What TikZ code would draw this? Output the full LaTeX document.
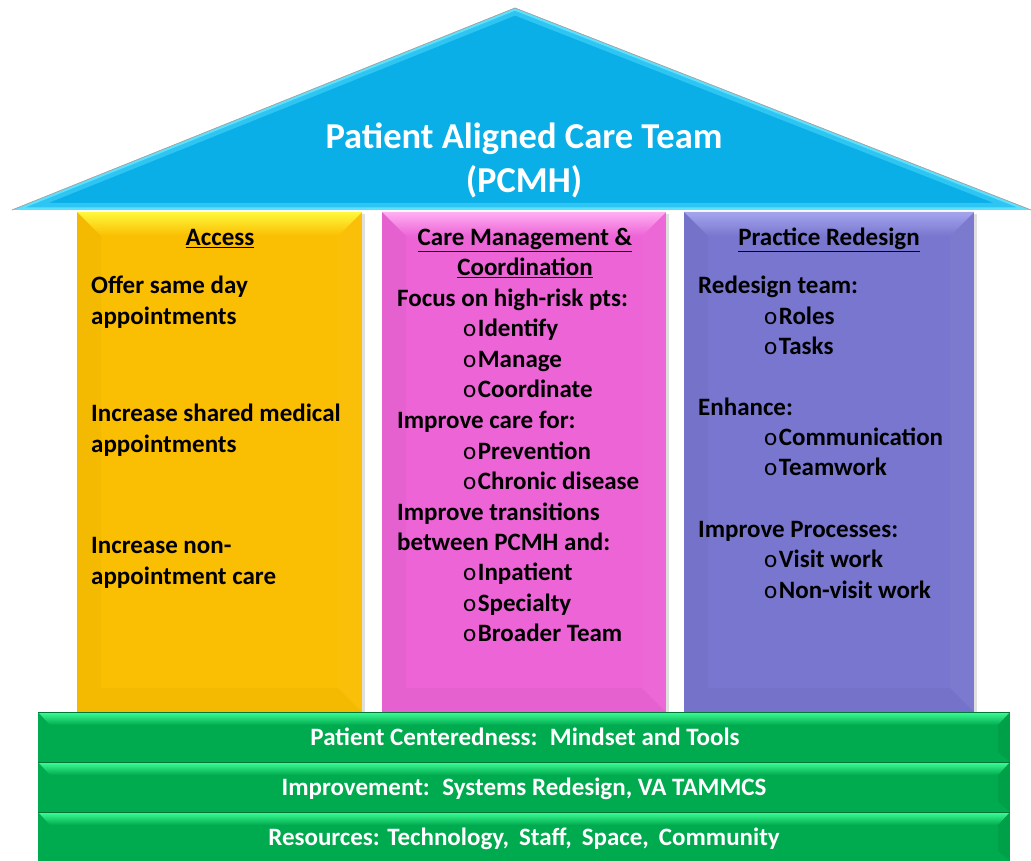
\documentclass[tikz,border=0pt]{standalone}
\usepackage{fontspec}
\setmainfont{Carlito}
\usetikzlibrary{positioning, shadows}
\definecolor{roofblue}{RGB}{10,175,232}
\definecolor{roofglow}{RGB}{90,225,255}
\definecolor{accessorange}{RGB}{250,190,2}
\definecolor{accesstop}{RGB}{255,248,60}
\definecolor{carepink}{RGB}{236,100,214}
\definecolor{caretop}{RGB}{255,175,242}
\definecolor{redesignpurple}{RGB}{120,118,206}
\definecolor{redesigntop}{RGB}{165,165,238}
\definecolor{basegreen}{RGB}{0,170,78}
\definecolor{basetop}{RGB}{62,255,150}
\newcommand{\bul}{{\mdseries o}\hspace{1.5pt}}

\tikzset{
  bodytext/.style={anchor=base west, inner sep=0pt, font=\fontsize{25}{30}\selectfont\bfseries},
  headtext/.style={anchor=base, inner sep=0pt, font=\fontsize{25}{30}\selectfont\bfseries},
  basetext/.style={anchor=base, inner sep=0pt, text=white, font=\fontsize{25}{28}\selectfont\bfseries},
  rooftext/.style={anchor=base, inner sep=0pt, text=white, font=\fontsize{36.5}{44}\selectfont\bfseries},
  pillarshadow/.style={drop shadow={opacity=0.25, shadow xshift=3pt, shadow yshift=-2pt}}
}

\begin{document}
\begin{tikzpicture}[x=1pt, y=-1pt]
\useasboundingbox (0,0) rectangle (1031,861);

% Roof
\begin{scope}
  \clip (12,210) -- (515,8) -- (1031,210) -- cycle;
  \fill[roofblue] (12,210) -- (515,8) -- (1031,210) -- cycle;
  \draw[roofglow, line width=14pt, opacity=0.45] (12,210) -- (515,8) -- (1031,210) -- cycle;
  \draw[roofglow, line width=5pt] (12,210) -- (515,8) -- (1031,210) -- cycle;
\end{scope}
\draw[gray!70, line width=0.8pt] (12,210) -- (515,8) -- (1031,210);
\node[rooftext] (title) at (524,149) {Patient Aligned Care Team};
\node[rooftext] (titleb) at (524,193) {(PCMH)};

% Pillars with bevel
\foreach \xa/\xb/\col/\hl in {77/362/accessorange/accesstop, 382/666/carepink/caretop, 684/974/redesignpurple/redesigntop} {
  \fill[\col, pillarshadow] (\xa,212) rectangle (\xb,712);
  \shade[top color=\hl, bottom color=\col] (\xa,212) -- (\xb,212) -- ({\xb-24},236) -- ({\xa+24},236) -- cycle;
  \fill[black, opacity=0.025] (\xa,212) -- ({\xa+24},236) -- ({\xa+24},688) -- (\xa,712) -- cycle;
  \fill[white, opacity=0.03] (\xb,212) -- ({\xb-24},236) -- ({\xb-24},688) -- (\xb,712) -- cycle;
  \fill[black, opacity=0.025] (\xa,712) -- ({\xa+24},688) -- ({\xb-24},688) -- (\xb,712) -- cycle;
}

% Access
\node[headtext] (acchead) at (220,246) {\underline{Access}};
\foreach \y/\txt [count=\i] in {293/{Offer same day}, 324/{appointments}, 421/{Increase shared medical}, 452/{appointments}, 553/{Increase non-}, 584/{appointment care}}
  \node[bodytext] (acc\i) at (91,\y) {\txt};

% Care Management & Coordination
\node[headtext] (carehead) at (525,246) {\underline{Care Management \&}};
\node[headtext] (careheadb) at (525,276) {\underline{Coordination}};
\foreach \y/\txt [count=\i] in {306/{Focus on high-risk pts:}, 428/{Improve care for:}, 520/{Improve transitions}, 550/{between PCMH and:}}
  \node[bodytext] (care\i) at (397,\y) {\txt};
\foreach \y/\txt [count=\i] in {336/Identify, 367/Manage, 397/Coordinate, 459/Prevention, 489/{Chronic disease}, 580/Inpatient, 611/Specialty, 641/{Broader Team}}
  \node[bodytext] (carebul\i) at (463,\y) {\bul\txt};

% Practice Redesign
\node[headtext] (redhead) at (829,246) {\underline{Practice Redesign}};
\foreach \y/\txt [count=\i] in {294/{Redesign team:}, 415/{Enhance:}, 537/{Improve Processes:}}
  \node[bodytext] (red\i) at (698,\y) {\txt};
\foreach \y/\txt [count=\i] in {324/Roles, 354/Tasks, 445/Communication, 475/Teamwork, 567/{Visit work}, 598/{Non-visit work}}
  \node[bodytext] (redbul\i) at (764,\y) {\bul\txt};

% Foundation
\foreach \ya/\yb in {712/762, 762/812, 812/861} {
  \fill[basegreen] (38,\ya) rectangle (1010,\yb);
  \shade[top color=basetop, bottom color=basegreen] (38,\ya) -- (1010,\ya) -- (998,{\ya+13}) -- (50,{\ya+13}) -- cycle;
  \fill[black, opacity=0.06] (1010,\ya) -- (998,{\ya+13}) -- (998,{\yb-10}) -- (1010,\yb) -- cycle;
  \draw[basegreen!70!black, line width=0.6pt] (38,\ya) -- (1010,\ya);
}
\node[basetext] (base1) at (525,745) {Patient Centeredness:\hspace{0.5em}Mindset and Tools};
\node[basetext] (base2) at (524,795) {Improvement:\hspace{0.5em}Systems Redesign, VA TAMMCS};
\node[basetext] (base3) at (524,845) {Resources: Technology,\hspace{0.4em}Staff,\hspace{0.4em}Space,\hspace{0.4em}Community};
\end{tikzpicture}
\end{document}
